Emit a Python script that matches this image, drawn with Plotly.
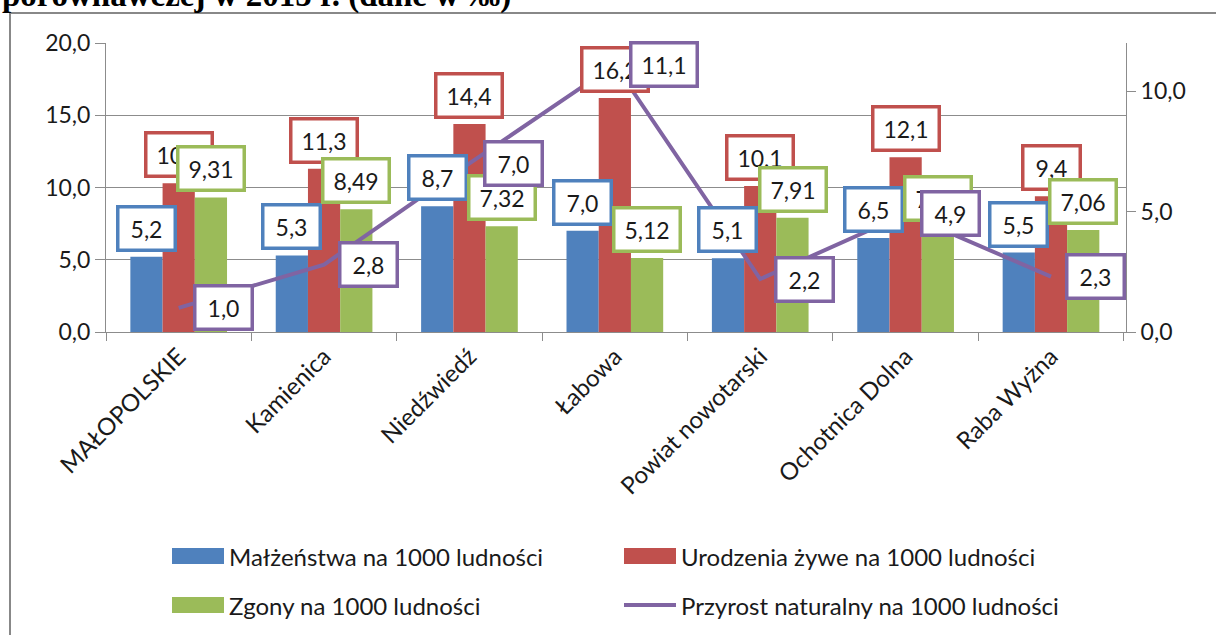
import plotly.graph_objects as go

categories = ["MAŁOPOLSKIE", "Kamienica", "Niedźwiedź", "Łabowa",
              "Powiat nowotarski", "Ochotnica Dolna", "Raba Wyżna"]
malzenstwa = [5.2, 5.3, 8.7, 7.0, 5.1, 6.5, 5.5]
urodzenia = [10.3, 11.3, 14.4, 16.2, 10.1, 12.1, 9.4]
zgony = [9.31, 8.49, 7.32, 5.12, 7.91, 7.25, 7.06]
przyrost = [1.0, 2.8, 7.0, 11.1, 2.2, 4.9, 2.3]
series_names = ["Małżeństwa na 1000 ludności", "Urodzenia żywe na 1000 ludności",
                "Zgony na 1000 ludności", "Przyrost naturalny na 1000 ludności"]
left_ticks = [0, 5, 10, 15, 20]
right_ticks = [0, 5, 10]
title_text = "porównawczej w 2015 r. (dane w ‰)"

colors = ["#4F81BD", "#C0504D", "#9BBB59", "#8064A2"]
FONT = "Lato"
TXT = "#1a1a1a"
GRID = "#8c8c8c"

W, H = 1216, 635
L, R, T, B = 106, 1126, 43, 332
BARGAP = 0.335


def px_x(p):
    return (p - L) / (R - L)


def px_y(p):
    return (B - p) / (B - T)


def fmt(v, d=1):
    return f"{v:.{d}f}".replace(".", ",")


fig = go.Figure()
bar_series = [malzenstwa, urodzenia, zgony]
for i, vals in enumerate(bar_series):
    fig.add_trace(go.Bar(x=categories, y=vals, name=series_names[i],
                         marker=dict(color=colors[i], line=dict(width=0)),
                         yaxis="y", showlegend=False))
fig.add_trace(go.Scatter(x=categories, y=przyrost, name=series_names[3],
                         mode="lines", line=dict(color=colors[3], width=4),
                         yaxis="y2", showlegend=False))

annotations = []
cat_px = (R - L) / len(categories)
bar_px = cat_px * (1 - BARGAP) / 3
decimals = [1, 1, 2]


def box_w(t):
    nd = sum(ch.isdigit() for ch in t)
    return 24 + 9 * nd


for i, vals in enumerate(bar_series):
    for c, v in zip(categories, vals):
        t = fmt(v, decimals[i])
        annotations.append(dict(
            x=c, y=v, xref="x", yref="y", text=t, showarrow=False,
            xanchor="center", yanchor="bottom", xshift=(i - 1) * bar_px, yshift=5,
            font=dict(family=FONT, size=23, color=TXT),
            bgcolor="white", bordercolor=colors[i], borderwidth=3.5, borderpad=6,
            width=box_w(t)))
for c, v in zip(categories, przyrost):
    t = fmt(v, 1)
    annotations.append(dict(
        x=c, y=v, xref="x", yref="y2", text=t, showarrow=False,
        xanchor="left", yanchor="middle", xshift=14,
        font=dict(family=FONT, size=23, color=TXT),
        bgcolor="white", bordercolor=colors[3], borderwidth=3.5, borderpad=6,
        width=box_w(t)))

# custom legend (wide Excel-style swatches)
shapes = []
leg_cols = [172, 624]
leg_rows = [556, 605]
sw_w, sw_h = 52, 16
for k, name in enumerate(series_names):
    cx = leg_cols[k % 2]
    cy = leg_rows[k // 2]
    if k < 3:
        shapes.append(dict(type="rect", xref="paper", yref="paper",
                           x0=px_x(cx), x1=px_x(cx + sw_w),
                           y0=px_y(cy + sw_h / 2), y1=px_y(cy - sw_h / 2),
                           fillcolor=colors[k], line=dict(width=0)))
    else:
        shapes.append(dict(type="line", xref="paper", yref="paper",
                           x0=px_x(cx), x1=px_x(cx + sw_w),
                           y0=px_y(cy), y1=px_y(cy),
                           line=dict(color=colors[k], width=4)))
    annotations.append(dict(x=px_x(cx + sw_w + 3), y=px_y(cy), xref="paper", yref="paper",
                            text=name, showarrow=False, xanchor="left", yanchor="middle",
                            font=dict(family=FONT, size=24, color=TXT)))

# outer chart border
shapes.append(dict(type="rect", xref="paper", yref="paper", layer="below",
                   x0=px_x(10), x1=px_x(1240), y0=px_y(660), y1=px_y(13),
                   line=dict(color="#888888", width=2), fillcolor="rgba(0,0,0,0)"))

# clipped title line
annotations.append(dict(x=px_x(0), y=px_y(16), xref="paper", yref="paper",
                        text=f"<b>{title_text}</b>", showarrow=False,
                        xanchor="left", yanchor="bottom",
                        font=dict(family="Liberation Serif", size=33, color="black")))

fig.update_layout(
    width=W, height=H,
    margin=dict(l=L, r=W - R, t=T, b=H - B, pad=0),
    paper_bgcolor="white", plot_bgcolor="white",
    barmode="group", bargap=BARGAP, bargroupgap=0,
    showlegend=False,
    separators=", ",
    font=dict(family=FONT, size=23, color=TXT),
    xaxis=dict(type="category", showline=True, linecolor=GRID, linewidth=1,
               ticks="outside", tickson="boundaries", ticklen=8, tickcolor=GRID,
               tickangle=-45, showgrid=False,
               tickfont=dict(family=FONT, size=24, color=TXT)),
    yaxis=dict(range=[0, 20], tickvals=left_ticks,
               ticktext=[fmt(v) for v in left_ticks],
               showgrid=True, gridcolor=GRID, gridwidth=1,
               showline=True, linecolor=GRID, linewidth=1,
               ticks="outside", ticklen=10, tickcolor=GRID, zeroline=False,
               tickfont=dict(family=FONT, size=23, color=TXT)),
    yaxis2=dict(range=[0, 12], tickvals=right_ticks,
                ticktext=[fmt(v) for v in right_ticks],
                overlaying="y", side="right", showgrid=False, zeroline=False,
                showline=True, linecolor=GRID, linewidth=1,
                ticks="outside", ticklen=9, tickcolor=GRID,
                tickfont=dict(family=FONT, size=23, color=TXT)),
    annotations=annotations, shapes=shapes,
)

fig.write_html("out.html", config={"displayModeBar": False},
               post_script="document.body.style.margin='0';")
